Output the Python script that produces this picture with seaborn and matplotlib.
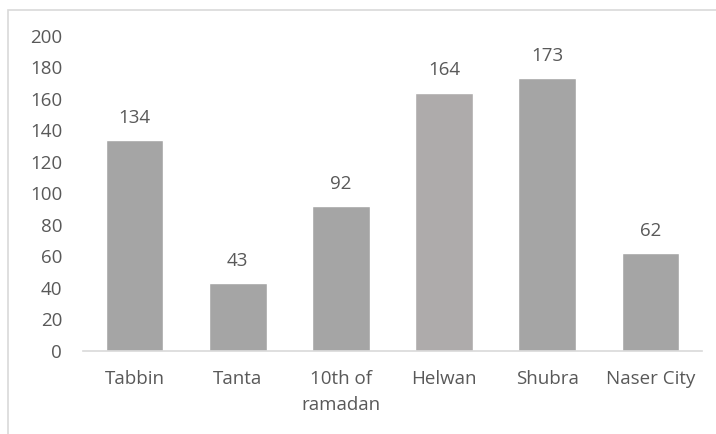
import pandas as pd
import seaborn as sns
import matplotlib.pyplot as plt
from matplotlib.patches import Rectangle

# values
cities = ['Tabbin', 'Tanta', '10th of\nramadan', 'Helwan', 'Shubra', 'Naser City']
counts = [134, 43, 92, 164, 173, 62]
bar_colors = ['#a5a5a5', '#a5a5a5', '#a5a5a5', '#aeaaaa', '#a5a5a5', '#a5a5a5']

df = pd.DataFrame({'city': cities, 'count': counts})

sns.set_style('white')
plt.rcParams['font.family'] = ['Open Sans', 'DejaVu Sans']
txt = '#595959'

fig = plt.figure(figsize=(7.16, 4.34), dpi=100)
ax = fig.add_axes([83 / 716, 1 - 350.7 / 434, 619 / 716, (350.7 - 36) / 434])

sns.barplot(data=df, x='city', y='count', hue='city', palette=bar_colors,
            legend=False, width=0.56, ax=ax)

ax.set_ylim(0, 200)
ax.set_yticks(range(0, 201, 20))
ax.set_xlabel('')
ax.set_ylabel('')
for s in ['top', 'right', 'left']:
    ax.spines[s].set_visible(False)
ax.spines['bottom'].set_color('#d9d9d9')
ax.spines['bottom'].set_linewidth(1.2)
ax.tick_params(axis='both', length=0, labelsize=13.5, colors=txt)
ax.tick_params(axis='x', pad=14)
ax.tick_params(axis='y', pad=15)
for lbl in ax.get_xticklabels():
    lbl.set_linespacing(1.55)

for i, v in enumerate(counts):
    ax.annotate(str(v), (i, v), xytext=(0, 16), textcoords='offset points',
                ha='center', va='center', fontsize=13.5, color=txt)

# outer chart frame
fig.patches.append(Rectangle((8 / 716, -0.1), 1.1, 1 - 10 / 434 + 0.1,
                             transform=fig.transFigure, fill=False,
                             edgecolor='#d9d9d9', linewidth=1.2))

fig.savefig('out.png', dpi=100)
